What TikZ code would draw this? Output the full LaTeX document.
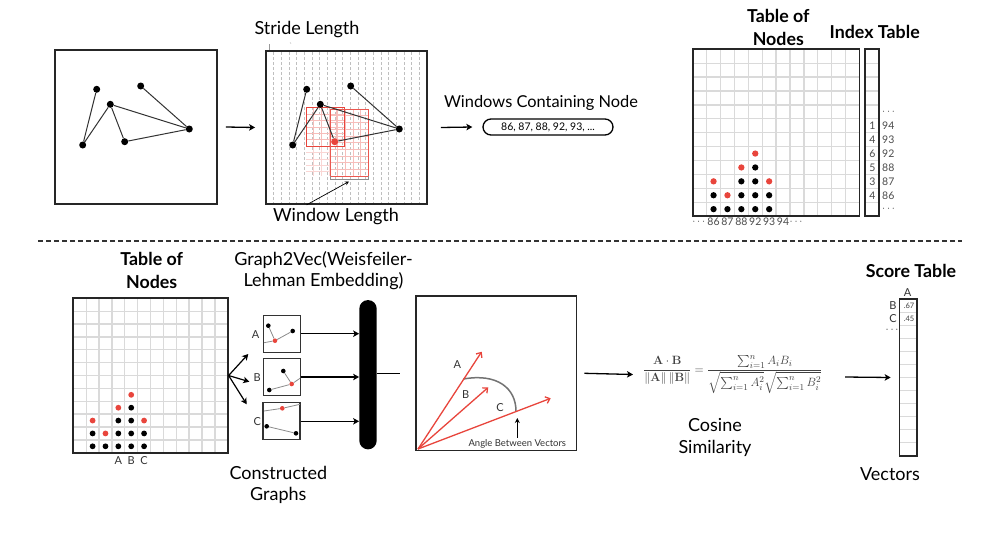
\documentclass[tikz,border=0pt]{standalone}
\usepackage{amsmath}
\usepackage{graphicx}
\usepackage[no-math]{fontspec}
\setmainfont{Lato}
\usetikzlibrary{arrows.meta,calc}
\definecolor{myred}{HTML}{E8453C}
\definecolor{gridgray}{HTML}{DADADA}
\begin{document}
\begin{tikzpicture}[x=1pt,y=-1pt,
  lbl/.style={font=\fontsize{18}{21.5}\selectfont, align=center, inner sep=0},
  ttl/.style={font=\fontsize{17.8}{23.3}\selectfont\bfseries, align=center, inner sep=0},
  frame/.style={draw=black!85, line width=1.8pt, inner sep=0},
  sframe/.style={draw=black!80, line width=1.1pt, inner sep=0, minimum width=37pt, minimum height=37pt},
  gnode/.style={circle, fill=black, inner sep=0, minimum size=7pt},
  rnode/.style={gnode, fill=myred},
  tdot/.style={circle, fill=black, inner sep=0, minimum size=6.3pt},
  tred/.style={tdot, fill=myred},
  sdot/.style={circle, fill=black, inner sep=0, minimum size=4.6pt},
  sred/.style={sdot, fill=myred},
  gedge/.style={line width=1pt, draw=black!80},
  sedge/.style={line width=0.8pt, draw=black!45},
  arr/.style={-{Stealth[length=6pt,width=6.5pt,inset=1.5pt]}, line width=1.3pt},
  sarr/.style={-{Stealth[length=4pt,width=4pt]}, line width=0.7pt},
  rarr/.style={-{Straight Barb[length=4pt,width=7pt]}, line width=1.3pt, draw=myred},
  grl/.style={draw=gridgray, line width=1.3pt},
  smallnum/.style={font=\fontsize{10.5}{12}\selectfont, text=black!70, inner sep=0},
  abc/.style={font=\fontsize{11}{13}\selectfont, text=black!80, inner sep=0},
]
\fill[white] (0,0) rectangle (990,546);
\useasboundingbox (0,0) rectangle (990,546);

% ---------------- top: box 1 ----------------
\node[frame, minimum width=162pt, minimum height=154pt] (box1) at (136,127) {};
\foreach \n/\x/\y in {a/96.7/89.3, b/140.7/86, c/110.3/104.3, d/189.3/129, e/82.7/145, f/124.7/141.7}
  \node[gnode] (g1\n) at (\x,\y) {};

% ---------------- top: box 2 (grid + windows) ----------------
\foreach \i in {1,...,20}
  \draw[black!25, line width=0.6pt, dash pattern=on 3pt off 2pt] (266+\i*7.67,52) -- (266+\i*7.67,203);
% faint window grids
\foreach \i in {1,...,3}
  \draw[myred!22, line width=0.5pt] (306+\i*7.6,146) -- (306+\i*7.6,176);
\foreach \j in {1,...,4}
  \draw[myred!22, line width=0.5pt] (306,146+\j*6.4) -- (330,146+\j*6.4);
\foreach \i in {1,...,4}
  \draw[myred!35, line width=0.5pt] (306+\i*7.6,107.5) -- (306+\i*7.6,146);
\foreach \j in {1,...,5}
  \draw[myred!35, line width=0.5pt] (306,107.5+\j*6.42) -- (344,107.5+\j*6.42);
\foreach \i in {1,...,4}
  \draw[myred!35, line width=0.5pt] (330+\i*7.6,109) -- (330+\i*7.6,176);
\foreach \j in {1,...,9}
  \draw[myred!35, line width=0.5pt] (330,109+\j*6.7) -- (368,109+\j*6.7);
\draw[myred, line width=1pt] (306,107.5) rectangle (344,146);
\draw[myred!90, line width=0.9pt] (330,109) rectangle (368,176);
\draw[black!45, line width=0.8pt] (330,176) -- (330,179.5) -- (368,179.5) -- (368,176);

\node[frame, minimum width=161pt, minimum height=153pt] (box2) at (346.5,127.5) {};
\foreach \n/\x/\y in {a/96.7/89.3, b/140.7/86, c/110.3/104.3, d/189.3/129, e/82.7/145}
  \node[gnode] (g2\n) at (\x+210,\y) {};
\node[rnode] (g2f) at (334.7,141.7) {};

\foreach \g in {g1,g2}
  \draw[gedge] (\g a) -- (\g e) (\g e) -- (\g c) (\g c) -- (\g f) (\g f) -- (\g d) (\g c) -- (\g d) (\g b) -- (\g d);

% stride ticks
\draw[black!40, line width=0.6pt] (269,44) -- (269,50);
\draw[black!30, line width=0.6pt] (290,42.5) -- (291,43.5);

\node[lbl] (stride) at (307,30) {Stride Length};
\node[lbl] (wlen) at (336,217) {Window Length};
\coordinate (brk) at (349,181.5);
\draw[sarr] ([xshift=-40pt]box2.south) -- (brk);

\draw[arr] ([xshift=8pt]box1.east) -- ([xshift=-10pt]box2.west);

% windows containing node
\node[lbl, font=\fontsize{16.4}{19}\selectfont] (wcn) at (541,103) {Windows Containing Node};
\node[draw, line width=1.3pt, rounded corners=8pt, minimum width=130pt, minimum height=16pt, inner sep=0,
      font=\fontsize{10.5}{12}\selectfont] (pill) at (548,127) {86, 87, 88, 92, 93, ...};
\draw[arr] ([xshift=13pt]box2.east) -- ([xshift=-10pt]pill.west);

% ---------------- top: table of nodes ----------------
\def\tAx{692.7}\def\tAy{49.3}\def\tAc{13.9}
\foreach \i in {1,...,11} {
  \draw[grl] (\tAx+\i*\tAc,\tAy) -- (\tAx+\i*\tAc,\tAy+12*\tAc);
  \draw[grl] (\tAx,\tAy+\i*\tAc) -- (\tAx+12*\tAc,\tAy+\i*\tAc);
  \draw[grl] (865.3,\tAy+\i*\tAc) -- (879.3,\tAy+\i*\tAc);
}
\node[frame, minimum width=166.8pt, minimum height=166.8pt] (tabA) at (\tAx+6*\tAc,\tAy+6*\tAc) {};
\node[frame, minimum width=14pt, minimum height=166.8pt] (idx) at (872.3,\tAy+6*\tAc) {};
\foreach \c/\r [count=\k] in {1/10,1/11,2/11,3/9,3/10,3/11,4/8,4/9,4/10,4/11,5/10,5/11}
  \node[tdot] (tab\k) at (\tAx+\c*\tAc+0.5*\tAc,\tAy+\r*\tAc+0.5*\tAc) {};
\foreach \c/\r [count=\k] in {1/9,2/10,3/8,4/7,5/9}
  \node[tred] (tar\k) at (\tAx+\c*\tAc+0.5*\tAc,\tAy+\r*\tAc+0.5*\tAc) {};
\foreach \t/\c [count=\k] in {{$\cdots$}/0,86/1,87/2,88/3,92/4,93/5,94/6,{$\cdots$}/7}
  \node[smallnum] (tal\k) at (\tAx+\c*\tAc+0.5*\tAc,221.7) {\t};
\foreach \t/\r [count=\k] in {1/5,4/6,6/7,5/8,3/9,4/10}
  \node[smallnum] (ixn\k) at (872.3,\tAy+\r*\tAc+0.5*\tAc) {\t};
\foreach \t/\r [count=\k] in {{$\cdots$}/4,94/5,93/6,92/7,88/8,87/9,86/10,{$\cdots$}/11}
  \node[smallnum, anchor=west] (ixv\k) at (882,\tAy+\r*\tAc+0.5*\tAc) {\t};
\node[ttl] (ttlA) at (778.3,27.3) {Table of\\Nodes};
\node[ttl] (ttlI) at (874.7,31.7) {Index Table};

% ---------------- separator ----------------
\coordinate (sepL) at (38,241);
\coordinate (sepR) at (962,241);
\draw[black!80, line width=2.4pt, dash pattern=on 5pt off 3pt] (sepL) -- (sepR);

% ---------------- bottom: table of nodes ----------------
\def\tBx{73.3}\def\tBy{298.3}\def\tBc{12.87}
\foreach \i in {1,...,11} {
  \draw[grl] (\tBx+\i*\tBc,\tBy) -- (\tBx+\i*\tBc,\tBy+12*\tBc);
  \draw[grl] (\tBx,\tBy+\i*\tBc) -- (\tBx+12*\tBc,\tBy+\i*\tBc);
}
\node[frame, minimum width=154.4pt, minimum height=154.4pt] (tabB) at (\tBx+6*\tBc,\tBy+6*\tBc) {};
\foreach \c/\r [count=\k] in {1/10,1/11,2/11,3/9,3/10,3/11,4/8,4/9,4/10,4/11,5/10,5/11}
  \node[tdot, minimum size=5.8pt] (tbb\k) at (\tBx+\c*\tBc+0.5*\tBc,\tBy+\r*\tBc+0.5*\tBc) {};
\foreach \c/\r [count=\k] in {1/9,2/10,3/8,4/7,5/9}
  \node[tred, minimum size=5.8pt] (tbr\k) at (\tBx+\c*\tBc+0.5*\tBc,\tBy+\r*\tBc+0.5*\tBc) {};
\foreach \t/\c [count=\k] in {A/3,B/4,C/5}
  \node[abc] (tbl\k) at (\tBx+\c*\tBc+0.5*\tBc,461) {\t};
\node[ttl] (ttlB) at (151.7,270.5) {Table of\\Nodes};

% fan arrows
\coordinate (fa) at (248.3,354);
\coordinate (fb) at (249.3,381.7);
\coordinate (fc) at (246.7,404.3);
\draw[arr, line width=1.2pt] (tabB.east) -- (fa);
\draw[arr, line width=1.2pt] (tabB.east) -- (fb);
\draw[arr, line width=1.2pt] (tabB.east) -- (fc);

% constructed graphs
\node[sframe] (bA) at (281.7,333.7) {};
\node[sframe] (bB) at (281.7,377) {};
\node[sframe] (bC) at (281.5,421.3) {};
\node[abc] (lbA) at (255.7,335) {A};
\node[abc] (lbB) at (257.3,377.7) {B};
\node[abc] (lbC) at (257.3,421.7) {C};
% A
\coordinate (aL) at (264,342.7);
\node[sdot] (a1) at (268.3,325.7) {};
\node[sred] (a2) at (275,340.7) {};
\node[sdot] (a3) at (292.7,331) {};
\draw[sedge] (aL) -- (a2) (a1) -- (a2) (a2) -- (a3);
% B
\coordinate (bR) at (300,378.3);
\node[sdot] (b1) at (283.3,371) {};
\node[sred] (b2) at (291.7,384) {};
\node[sdot] (b3) at (269.3,390) {};
\draw[sedge] (b3) -- (b2) (b2) -- (b1) (b2) -- (bR);
% C
\coordinate (cL) at (264,411);
\coordinate (cR) at (300,404.3);
\node[sred] (c1) at (282.3,408.3) {};
\node[sdot] (c2) at (266.7,426.3) {};
\node[sdot] (c3) at (296,433.3) {};
\draw[sedge] (cL) -- (c1) (c1) -- (cR) (c2) -- (c3);

% embedding bar
\node[fill=black, rounded corners=8.7pt, minimum width=17.4pt, minimum height=149.3pt, inner sep=0] (bar) at (368,374.7) {};
\draw[arr] (bA.east) -- (bA.east -| bar.west);
\draw[arr] (bB.east) -- (bB.east -| bar.west);
\draw[arr] (bC.east) -- (bC.east -| bar.west);
\coordinate (barend) at (400,373.7);
\draw[line width=1.2pt] (bar.east |- barend) -- (barend);

\node[lbl] (g2v) at (323.5,270.8) {Graph2Vec(Weisfeiler-\\Lehman Embedding)};
\node[lbl] (cgr) at (278.3,485) {Constructed\\Graphs};

% vector box
\node[frame, line width=1.6pt, minimum width=160.7pt, minimum height=154.7pt] (vbox) at (496.3,373.3) {};
\coordinate (o) at (418,449);
\coordinate (tA) at (481.7,351.7);
\coordinate (tB) at (488.3,387.3);
\coordinate (tC) at (550.7,398.3);
\coordinate (arcS) at (463.5,379);
\coordinate (arcE) at (516,411.3);
\draw[black!55, line width=1.5pt] (arcS) .. controls (497,373) and (516,388) .. (arcE);
\draw[rarr] (o) -- (tA);
\draw[rarr] (o) -- (tB);
\draw[rarr] (o) -- (tC);
\node[abc] (vA) at (457.3,365) {A};
\node[abc] (vB) at (465.7,395) {B};
\node[abc] (vC) at (500,407.3) {C};
\node[font=\fontsize{9.5}{11}\selectfont, text=black!80, inner sep=1pt] (abv) at (517.3,443.5) {Angle Between Vectors};
\coordinate (abvT) at (517.3,418);
\draw[-{Stealth[length=5pt,width=5pt]}, line width=1.2pt] (abv.north) -- (abvT);

% formula
\node[text=black!75, inner sep=0, anchor=west, font=\fontsize{12.7}{15}\selectfont] (formula) at (643,374.5)
  {$\displaystyle\frac{\mathbf{A}\cdot\mathbf{B}}{\|\mathbf{A}\|\,\|\mathbf{B}\|}=\frac{\sum_{i=1}^{n}A_iB_i}{\sqrt{\sum_{i=1}^{n}A_i^2}\sqrt{\sum_{i=1}^{n}B_i^2}}$};
\draw[arr] ([xshift=7pt]vbox.east) -- ([xshift=-10pt]formula.west);
\node[lbl] (cos) at (715,437.5) {Cosine\\Similarity};

% score table
\foreach \k in {1,...,11}
  \draw[grl, line width=0.9pt] (899.5,299+\k*13.08) -- (917,299+\k*13.08);
\node[frame, line width=1.7pt, minimum width=17.5pt, minimum height=157pt] (score) at (908.25,377.5) {};
\coordinate (sArr) at (845,377);
\draw[arr] (sArr) -- ([xshift=-8pt]score.west);
\node[abc] (sA) at (907.7,292.5) {A};
\node[abc] (sB) at (893,305.5) {B};
\node[abc] (sC) at (893,318.5) {C};
\node[abc] (sD) at (893,330) {$\cdots$};
\node[font=\fontsize{7.5}{9}\selectfont, text=black!75, inner sep=0] (s67) at (909,305.5) {.67};
\node[font=\fontsize{7.5}{9}\selectfont, text=black!75, inner sep=0] (s45) at (909,318.5) {.45};
\node[ttl] (ttlS) at (911,271) {Score Table};
\node[lbl] (vec) at (890,474) {Vectors};
\end{tikzpicture}
\end{document}
